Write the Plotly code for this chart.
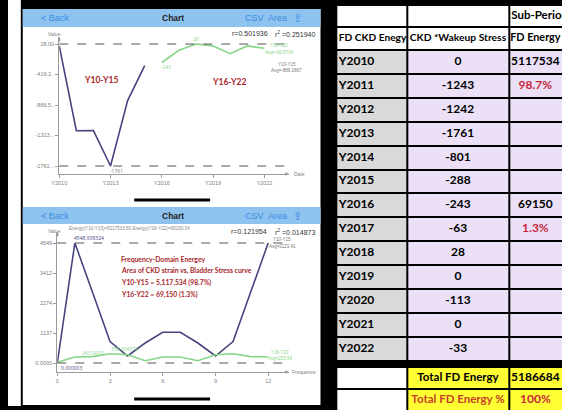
import plotly.graph_objects as go

W, H = 562, 410

# ── data ──
years_a = [2010, 2011, 2012, 2013, 2014, 2015]
stress_a = [0, -1243, -1242, -1761, -801, -288]
years_b = [2016, 2017, 2018, 2019, 2020, 2021, 2022]
stress_b = [-243, -63, 28, 0, -113, 0, -33]

freq = list(range(13))
energy_a = [0.000003, 4548.938324, 2690, 815, 265, 758, 1163,
            1163, 758, 265, 815, 2690, 4548.938324]
energy_b = [30, 227, 243, 350.434572, 316, 88, 227,
            227, 88, 316, 350.434572, 243, 227]

date_ticks = [2010, 2013, 2016, 2019, 2022]
date_labels = ["Y2010", "Y2013", "Y2016", "Y2019", "Y2022"]
freq_ticks = [0, 3, 6, 9, 12]
energy_ticks = [0.000003, 1137.2, 2274.5, 3411.7, 4548.938324]
energy_labels = ["0.0000", "1137", "2274", "3412", "4549"]

table_years = ["Y2010", "Y2011", "Y2012", "Y2013", "Y2014", "Y2015", "Y2016",
               "Y2017", "Y2018", "Y2019", "Y2020", "Y2021", "Y2022"]
table_stress = stress_a + stress_b
table_fd = ["5117534", "98.7%", "", "", "", "", "69150", "1.3%", "", "", "", "", ""]
table_head = ["FD CKD Enegy", "CKD *Wakeup Stress", "FD Energy"]
table_super = ["", "", "Sub-Period"]
total_labels = ["Total FD Energy", "Total FD Energy %"]
total_values = ["5186684", "100%"]

# ── palette ──
PURPLE = "#46457f"
GREEN = "#86d686"
DARKRED = "#a8262a"
BAR = "#8ec2ef"
BARTXT = "#3b8ee0"
AXIS = "#9a9a9a"
TICK = "#808080"
LAV = "#ebe0f6"
GREY = "#d9d9d9"
RED = "#c8283c"
ORANGE_RED = "#c8402a"
YEL = "#ffff33"

UI = "Liberation Sans, Arial, sans-serif"
NARROW = "Lato, Roboto, sans-serif"


def px(x):
    return x / W


def py(y):
    return 1 - y / H


fig = go.Figure()

# ── top chart: stress over time ──
fig.add_trace(go.Scatter(x=years_a, y=stress_a, mode="lines",
                         line=dict(color=PURPLE, width=1.6),
                         xaxis="x", yaxis="y", showlegend=False, hoverinfo="skip"))
fig.add_trace(go.Scatter(x=years_b, y=stress_b, mode="lines",
                         line=dict(color=GREEN, width=1.6),
                         xaxis="x", yaxis="y", showlegend=False, hoverinfo="skip"))

all_stress = stress_a + stress_b
s_max, s_min = max(all_stress), min(all_stress)
step = (s_max - s_min) / 4
stress_ticks = [s_max - i * step for i in range(5)]


def trunc(v):
    s = f"{v:.2f}"
    return s if len(s) <= 6 else s[:6] + ".."


stress_labels = [trunc(v) for v in stress_ticks]

# ── bottom chart: frequency-domain energy ──
fig.add_trace(go.Scatter(x=freq, y=energy_a, mode="lines",
                         line=dict(color=PURPLE, width=1.6),
                         xaxis="x2", yaxis="y2", showlegend=False, hoverinfo="skip"))
fig.add_trace(go.Scatter(x=freq, y=energy_b, mode="lines",
                         line=dict(color=GREEN, width=1.6),
                         xaxis="x2", yaxis="y2", showlegend=False, hoverinfo="skip"))

e_max = max(energy_a)

# ── spreadsheet table: heatmap bricks for cells, text trace on top ──
col_edges = [0, 72, 175, 240]                      # px from table's left edge
n_data = len(table_years)
row_edges = [5, 27, 50]
for i in range(n_data):
    row_edges.append(row_edges[-1] + 23.9)
row_edges += [row_edges[-1] + 6.5, row_edges[-1] + 6.5 + 22, row_edges[-1] + 6.5 + 44]

WHITE_C, GREY_C, LAV_C, YEL_C = 0, 1, 2, 3
z = [[WHITE_C] * 3, [WHITE_C] * 3]
z += [[GREY_C, LAV_C, LAV_C] for _ in range(n_data)]
z += [[None] * 3]                                   # black gap
z += [[WHITE_C, YEL_C, YEL_C], [WHITE_C, YEL_C, YEL_C]]

fig.add_trace(go.Heatmap(
    x=col_edges, y=row_edges, z=z, zmin=0, zmax=3,
    colorscale=[[0, "white"], [1 / 3, GREY], [2 / 3, LAV], [1, YEL]],
    xgap=2, ygap=2, showscale=False, hoverinfo="skip",
    xaxis="x3", yaxis="y3",
))

centers = [(row_edges[i] + row_edges[i + 1]) / 2 for i in range(len(row_edges) - 1)]
x_mid = [(col_edges[i] + col_edges[i + 1]) / 2 for i in range(3)]
x_mid[2] = 202

tx, ty, tt, tc, tp, ts = [], [], [], [], [], []


def cell(col, row, text, color="black", pos="middle center", size=12):
    if text == "":
        return
    if pos == "middle right":
        tx.append(col_edges[col] + 2.5)
    else:
        tx.append(x_mid[col])
    ty.append(centers[row])
    tt.append("<b>" + str(text) + "</b>")
    tc.append(color)
    tp.append(pos)
    ts.append(size)


cell(2, 0, table_super[2], pos="middle right", size=11.5)
cell(0, 1, table_head[0], pos="middle right", size=10.2)
cell(1, 1, table_head[1], size=10.3)
cell(2, 1, table_head[2], size=10.8)
for i in range(n_data):
    cell(0, 2 + i, table_years[i], pos="middle right")
    cell(1, 2 + i, table_stress[i])
    cell(2, 2 + i, table_fd[i], RED if table_fd[i].endswith("%") else "black")
tot_row = 2 + n_data + 1
cell(1, tot_row, total_labels[0], size=11.5)
cell(2, tot_row, total_values[0])
cell(1, tot_row + 1, total_labels[1], ORANGE_RED, size=11.5)
cell(2, tot_row + 1, total_values[1], RED)

fig.add_trace(go.Scatter(
    x=tx, y=ty, text=tt, mode="text", textposition=tp,
    textfont=dict(family=NARROW, size=ts, color=tc),
    xaxis="x3", yaxis="y3", showlegend=False, hoverinfo="skip", cliponaxis=True,
))

# ── phone screenshot frames ──
shapes = [
    dict(type="rect", xref="paper", yref="paper", x0=0, x1=px(13), y0=py(406), y1=1,
         fillcolor="white", line=dict(width=0), layer="below"),
    dict(type="rect", xref="paper", yref="paper", x0=px(15), x1=px(317), y0=py(405), y1=py(9),
         fillcolor="white", line=dict(width=0), layer="below"),
    dict(type="rect", xref="paper", yref="paper", x0=px(15), x1=px(317), y0=py(27), y1=py(9),
         fillcolor=BAR, line=dict(width=0), layer="below"),
    dict(type="rect", xref="paper", yref="paper", x0=px(15), x1=px(317), y0=py(224), y1=py(207),
         fillcolor=BAR, line=dict(width=0), layer="below"),
    dict(type="line", xref="paper", yref="paper", x0=px(128), x1=px(205), y0=py(200), y1=py(200),
         line=dict(color="black", width=3)),
    dict(type="line", xref="paper", yref="paper", x0=px(128), x1=px(205), y0=py(399), y1=py(399),
         line=dict(color="black", width=3)),
    # dashed max / min guides
    dict(type="line", xref="x domain", yref="y", x0=0, x1=0.99, y0=s_max, y1=s_max,
         line=dict(color="#555", width=1, dash="dash")),
    dict(type="line", xref="x domain", yref="y", x0=0, x1=0.99, y0=s_min, y1=s_min,
         line=dict(color="#555", width=1, dash="dash")),
    dict(type="line", xref="x2 domain", yref="y2", x0=0, x1=0.99, y0=e_max, y1=e_max,
         line=dict(color="#555", width=1, dash="dash")),
    dict(type="line", xref="x2 domain", yref="y2", x0=0, x1=0.99, y0=0, y1=0,
         line=dict(color="#555", width=1, dash="dash")),
]

ann = []


def note(x, y, text, size=7, color="#333", family=UI, xanchor="center", **kw):
    ann.append(dict(xref="paper", yref="paper", x=px(x), y=py(y), text=text,
                    showarrow=False, xanchor=xanchor, yanchor="middle",
                    font=dict(size=size, color=color, family=family), **kw))


for top in (18, 215.5):
    note(48, top, "&lt; Back", 9, BARTXT)
    note(167, top, "<b>Chart</b>", 8.5, "#222")
    note(262, top, "CSV  Area", 9, BARTXT)
    note(294, top, "⇪", 11, BARTXT)

# top chart texts
note(47, 34, "Value", 5, TICK)
note(245, 34, "r=0.501936", 7)
note(291, 34, "r<sup>2</sup> =0.251940", 7)
note(275, 46, "Y16-Y22", 4.5, GREEN)
note(275, 52, "Avg=-60.5714", 4.5, GREEN)
note(283, 64, "Y10-Y15", 4.5, "#777")
note(283, 70, "Avg=-889.1667", 4.5, "#777")
note(94, 80, "<b>Y10-Y15</b>", 8.5, DARKRED, NARROW)
note(224, 82, "<b>Y16-Y22</b>", 8.5, DARKRED, NARROW)
note(296, 174, "Date", 5, TICK)

# bottom chart texts
note(60, 228, "Energy(Y10-Y15)=5117533.50 Energy(Y16-Y22)=69150.34", 4.6, "#888", xanchor="left")
note(47, 231, "Value", 5, TICK)
note(244, 232, "r=0.121954", 7)
note(291, 232, "r<sup>2</sup> =0.014873", 7)
note(278, 240, "Y10-Y15", 4.5, "#777")
note(278, 246, "Avg=2123.41", 4.5, "#777")
note(276, 352, "Y16-Y22", 4.5, GREEN)
note(276, 358, "Avg=225.54", 4.5, GREEN)
note(300, 372, "Frequence", 5, TICK)
red_lines = ["Frequency-Domain Energey",
             "Area of CKD strain vs, Bladder Stress curve",
             "Y10-Y15 = 5,117,534 (98.7%)",
             "Y16-Y22 = 69,150 (1.3%)"]
for i, line in enumerate(red_lines):
    note(113, 259 + i * 11.7, f"<b>{line}</b>", 6.8, DARKRED, NARROW, xanchor="left")

# point labels
ann += [
    dict(x=2013, y=s_min, xref="x", yref="y", text="-1761", showarrow=False,
         xshift=6, yshift=-5, font=dict(size=5, color="#777")),
    dict(x=2016, y=stress_b[0], xref="x", yref="y", text="-243", showarrow=False,
         xshift=4, yshift=-5, font=dict(size=5, color=GREEN)),
    dict(x=2018, y=s_max, xref="x", yref="y", text="28", showarrow=False,
         yshift=5, font=dict(size=5, color=GREEN)),
    dict(x=1, y=e_max, xref="x2", yref="y2", text="4548.938324", showarrow=False,
         xshift=14, yshift=5, font=dict(size=5, color=PURPLE)),
    dict(x=0, y=0, xref="x2", yref="y2", text="0.000003", showarrow=False,
         xanchor="left", xshift=2, yshift=-5, font=dict(size=5, color=PURPLE)),
    dict(x=2, y=energy_b[2], xref="x2", yref="y2", text="243.0000", showarrow=False,
         yshift=4, font=dict(size=5, color=GREEN)),
    dict(x=3.8, y=energy_b[3], xref="x2", yref="y2", text="350.434572", showarrow=False,
         yshift=5, font=dict(size=5, color=GREEN)),
]

# axis arrow heads
for xr, yr in (("x", "y"), ("x2", "y2")):
    ann.append(dict(xref=f"{xr} domain", yref=f"{yr} domain", x=1, y=0, ax=-6, ay=0,
                    text="", showarrow=True, arrowhead=2, arrowsize=0.7,
                    arrowwidth=1, arrowcolor=AXIS))
    ann.append(dict(xref=f"{xr} domain", yref=f"{yr} domain", x=0, y=1, ax=0, ay=6,
                    text="", showarrow=True, arrowhead=2, arrowsize=0.7,
                    arrowwidth=1, arrowcolor=AXIS))

axis_common = dict(showline=True, linecolor=AXIS, linewidth=1, showgrid=False,
                   zeroline=False, ticks="outside", ticklen=3, tickcolor=AXIS,
                   tickfont=dict(size=5.5, color=TICK, family=UI))
hidden = dict(visible=False, showgrid=False, zeroline=False, fixedrange=True)

fig.update_layout(
    width=W, height=H,
    margin=dict(l=0, r=0, t=0, b=0),
    paper_bgcolor="black", plot_bgcolor="rgba(0,0,0,0)",
    xaxis=dict(domain=[px(52), px(285)], range=[2010, 2023.44], anchor="y",
               tickvals=date_ticks, ticktext=date_labels, **axis_common),
    yaxis=dict(domain=[py(174), py(37)], range=[-1878, 131], anchor="x",
               tickvals=stress_ticks, ticktext=stress_labels, **axis_common),
    xaxis2=dict(domain=[px(50), px(285)], range=[0, 13.18], anchor="y2",
                tickvals=freq_ticks, **axis_common),
    yaxis2=dict(domain=[py(372), py(232)], range=[-341, 4966], anchor="x2",
                tickvals=energy_ticks, ticktext=energy_labels, **axis_common),
    xaxis3=dict(domain=[px(333), 1], range=[0, W - 333], anchor="y3", **hidden),
    yaxis3=dict(domain=[0, 1], range=[H, 0], anchor="x3", **hidden),
    shapes=shapes,
    annotations=ann,
)

fig.write_html("out.html", config={"displayModeBar": False},
               post_script="document.body.style.margin='0';document.body.style.overflow='hidden';")
